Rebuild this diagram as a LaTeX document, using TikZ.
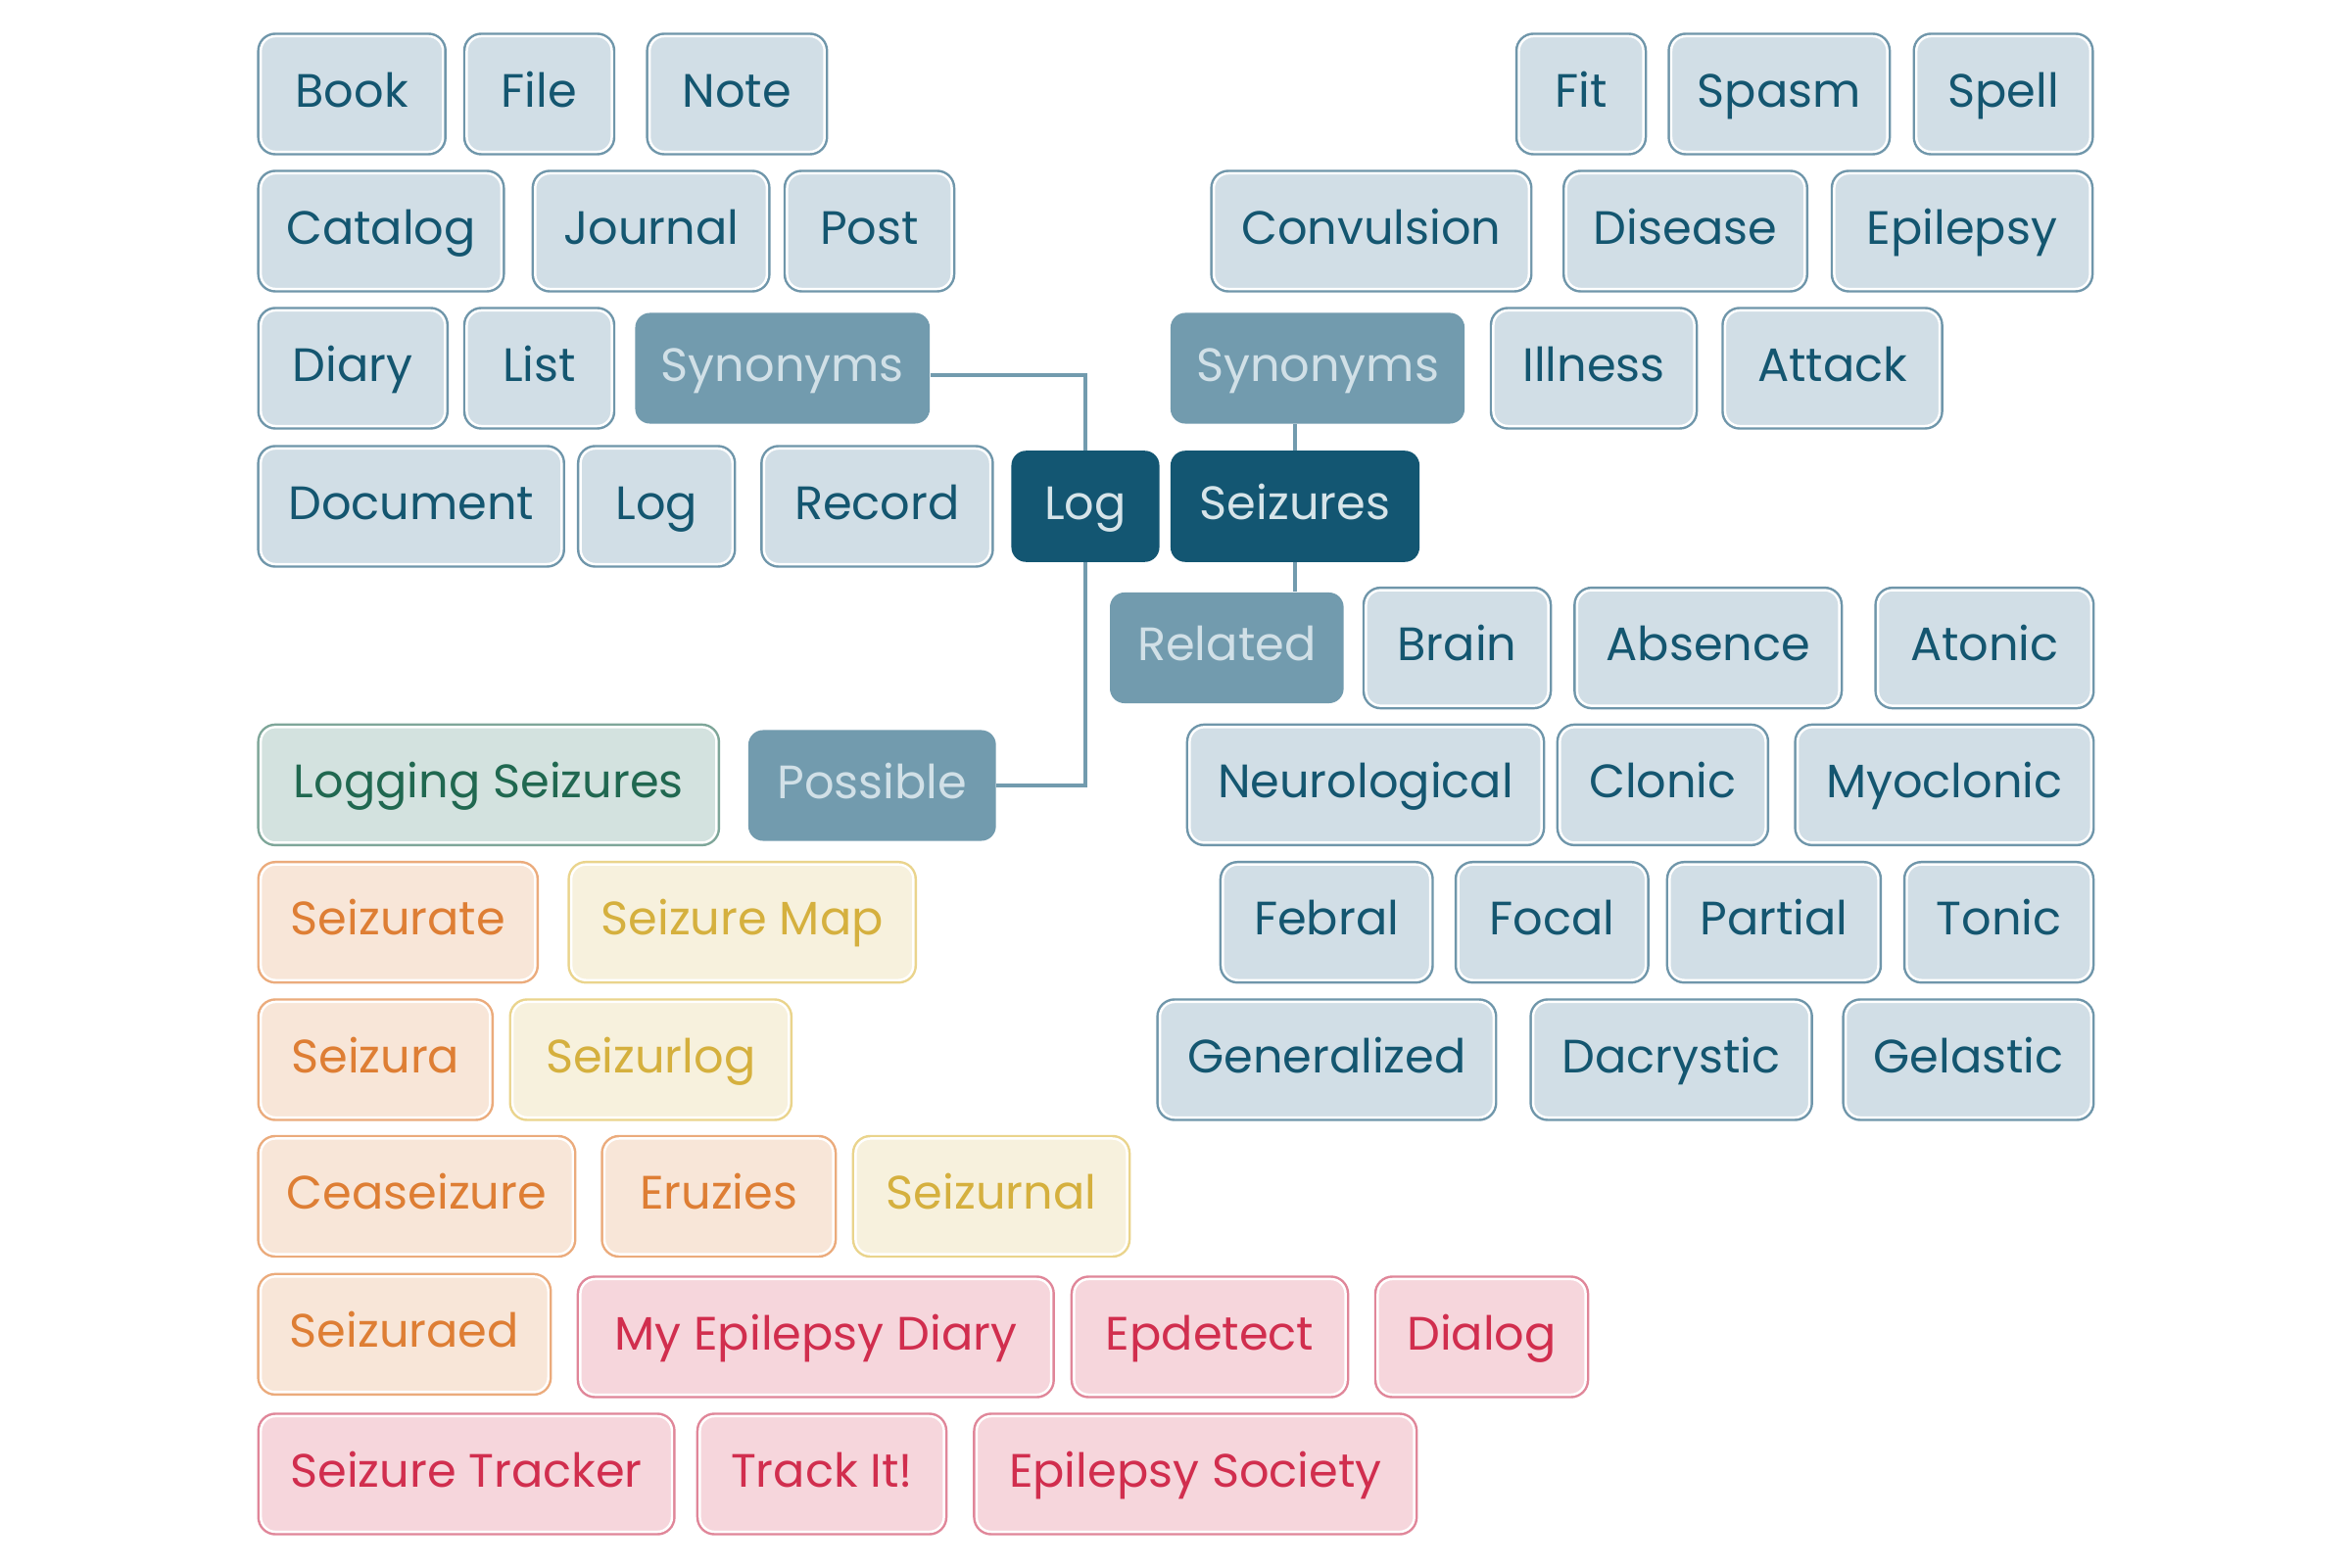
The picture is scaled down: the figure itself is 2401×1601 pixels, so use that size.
\documentclass[tikz,border=0pt]{standalone}
\usepackage{fontspec}
\setmainfont{Poppins}
\usepackage{tikz}
\definecolor{liteFill}{RGB}{209, 222, 230}
\definecolor{liteEdge}{RGB}{111, 150, 170}
\definecolor{liteText}{RGB}{20, 86, 112}
\definecolor{hubFill}{RGB}{19, 86, 114}
\definecolor{hubText}{RGB}{214, 228, 233}
\definecolor{branchFill}{RGB}{114, 155, 174}
\definecolor{branchText}{RGB}{209, 224, 231}
\definecolor{greenFill}{RGB}{211, 226, 223}
\definecolor{greenEdge}{RGB}{126, 166, 153}
\definecolor{greenText}{RGB}{32, 104, 80}
\definecolor{orangeFill}{RGB}{248, 230, 216}
\definecolor{orangeEdge}{RGB}{235, 171, 124}
\definecolor{orangeText}{RGB}{222, 126, 52}
\definecolor{yellowFill}{RGB}{247, 241, 221}
\definecolor{yellowEdge}{RGB}{234, 212, 140}
\definecolor{yellowText}{RGB}{213, 176, 62}
\definecolor{pinkFill}{RGB}{246, 214, 220}
\definecolor{pinkEdge}{RGB}{224, 134, 153}
\definecolor{pinkText}{RGB}{209, 46, 78}
\tikzstyle{chip} = [rectangle, rounded corners=0.15cm, minimum height=1.18cm, inner sep=0pt, text height=0.75em, text depth=0pt, font=\fontsize{13.6}{16}\selectfont]
\tikzstyle{lite} = [chip, fill=liteFill, text=liteText, draw=white, line width=0.7pt, preaction={draw=liteEdge, line width=2.1pt}]
\tikzstyle{greenchip} = [chip, fill=greenFill, text=greenText, draw=white, line width=0.7pt, preaction={draw=greenEdge, line width=2.1pt}]
\tikzstyle{orangechip} = [chip, fill=orangeFill, text=orangeText, draw=white, line width=0.7pt, preaction={draw=orangeEdge, line width=2.1pt}]
\tikzstyle{yellowchip} = [chip, fill=yellowFill, text=yellowText, draw=white, line width=0.7pt, preaction={draw=yellowEdge, line width=2.1pt}]
\tikzstyle{pinkchip} = [chip, fill=pinkFill, text=pinkText, draw=white, line width=0.7pt, preaction={draw=pinkEdge, line width=2.1pt}]
\tikzstyle{hub} = [chip, minimum height=1.135cm, fill=hubFill, text=hubText]
\tikzstyle{branch} = [chip, minimum height=1.13cm, fill=branchFill, text=branchText]
\tikzstyle{link} = [line width=1.35pt, draw=branchFill]

\begin{document}
\begin{tikzpicture}[x=0.01cm, y=-0.01cm]
    \path[use as bounding box, fill=white] (0,0) rectangle (2401,1601);

    % Centre
    \node[hub, minimum width=1.51cm] (loghub) at (1108,517) {Log};
    \node[hub, minimum width=2.54cm] (seizures) at (1322,517) {Seizures};
    \node[branch, minimum width=3.005cm] (synL) at (798.8,376) {Synonyms};
    \node[branch, minimum width=3.0cm] (synR) at (1345,376) {Synonyms};
    \node[branch, minimum width=2.385cm] (related) at (1252.3,661.5) {Related};
    \node[branch, minimum width=2.526cm] (possible) at (890.3,802) {Possible};

    % Synonyms of log
    \node[lite, minimum width=1.86cm] (book) at (359.2,96) {Book};
    \node[lite, minimum width=1.48cm] (file) at (550.5,96) {File};
    \node[lite, minimum width=1.785cm] (note) at (752.4,96) {Note};
    \node[lite, minimum width=2.455cm] (catalog) at (389,236) {Catalog};
    \node[lite, minimum width=2.365cm] (journal) at (664.6,236) {Journal};
    \node[lite, minimum width=1.68cm] (post) at (887.5,236) {Post};
    \node[lite, minimum width=1.88cm] (diary) at (360.3,376) {Diary};
    \node[lite, minimum width=1.48cm] (list) at (550.5,376) {List};
    \node[lite, minimum width=3.07cm] (document) at (419.7,517) {Document};
    \node[lite, minimum width=1.55cm] (logw) at (670.2,517) {Log};
    \node[lite, minimum width=2.31cm] (record) at (895.4,517) {Record};

    % Synonyms of seizures
    \node[lite, minimum width=1.27cm] (fit) at (1614,96) {Fit};
    \node[lite, minimum width=2.205cm] (spasm) at (1816.3,96) {Spasm};
    \node[lite, minimum width=1.775cm] (spell) at (2045,96) {Spell};
    \node[lite, minimum width=3.215cm] (convulsion) at (1399.9,236) {Convulsion};
    \node[lite, minimum width=2.435cm] (disease) at (1720.5,236) {Disease};
    \node[lite, minimum width=2.61cm] (epilepsy) at (2003,236) {Epilepsy};
    \node[lite, minimum width=2.05cm] (illness) at (1627,376) {Illness};
    \node[lite, minimum width=2.19cm] (attack) at (1870.5,376) {Attack};

    % Related words
    \node[lite, minimum width=1.86cm] (brain) at (1487.5,661.6) {Brain};
    \node[lite, minimum width=2.675cm] (absence) at (1743.7,661.6) {Absence};
    \node[lite, minimum width=2.175cm] (atonic) at (2025.9,661.6) {Atonic};
    \node[lite, minimum width=3.59cm] (neuro) at (1394,801.4) {Neurological};
    \node[lite, minimum width=2.1cm] (clonic) at (1697.4,801.4) {Clonic};
    \node[lite, minimum width=2.995cm] (myoclonic) at (1984.9,801.4) {Myoclonic};
    \node[lite, minimum width=2.115cm] (febral) at (1354.2,941.7) {Febral};
    \node[lite, minimum width=1.915cm] (focal) at (1584.3,941.7) {Focal};
    \node[lite, minimum width=2.13cm] (partial) at (1810.9,941.7) {Partial};
    \node[lite, minimum width=1.88cm] (tonic) at (2040.5,941.7) {Tonic};
    \node[lite, minimum width=3.405cm] (generalized) at (1354.4,1082) {Generalized};
    \node[lite, minimum width=2.82cm] (dacrystic) at (1706.1,1082) {Dacrystic};
    \node[lite, minimum width=2.505cm] (gelastic) at (2009.4,1082) {Gelastic};

    % Possible names
    \node[greenchip, minimum width=4.65cm] (logging) at (498.8,801.4) {Logging Seizures};
    \node[orangechip, minimum width=2.8cm] (seizurate) at (406.3,941.7) {Seizurate};
    \node[yellowchip, minimum width=3.49cm] (seizmap) at (757.7,941.7) {Seizure Map};
    \node[orangechip, minimum width=2.34cm] (seizura) at (383.3,1082) {Seizura};
    \node[yellowchip, minimum width=2.82cm] (seizurlog) at (664.3,1082) {Seizurlog};
    \node[orangechip, minimum width=3.185cm] (ceaseizure) at (425.4,1221.5) {Ceaseizure};
    \node[orangechip, minimum width=2.335cm] (eruzies) at (733.8,1221.5) {Eruzies};
    \node[yellowchip, minimum width=2.77cm] (seizurnal) at (1012,1221.5) {Seizurnal};
    \node[orangechip, minimum width=2.935cm] (seizuraed) at (412.9,1362.4) {Seizuraed};
    \node[pinkchip, minimum width=4.805cm] (myepi) at (832.8,1365) {My Epilepsy Diary};
    \node[pinkchip, minimum width=2.77cm] (epdetect) at (1235,1365) {Epdetect};
    \node[pinkchip, minimum width=2.12cm] (dialog) at (1512.5,1365) {Dialog};
    \node[pinkchip, minimum width=4.195cm] (tracker) at (476.1,1505) {Seizure Tracker};
    \node[pinkchip, minimum width=2.49cm] (trackit) at (839,1505) {Track It!};
    \node[pinkchip, minimum width=4.465cm] (episoc) at (1220.3,1505) {Epilepsy Society};

    % Connectors
    \draw[link] ([yshift=-0.07cm]synL.east) -| (loghub.north);
    \draw[link] (loghub.south) |- (possible.east);
    \draw[link] (seizures.north) -- (seizures.north |- synR.south);
    \draw[link] (seizures.south) -- (seizures.south |- related.north);
\end{tikzpicture}
\end{document}
